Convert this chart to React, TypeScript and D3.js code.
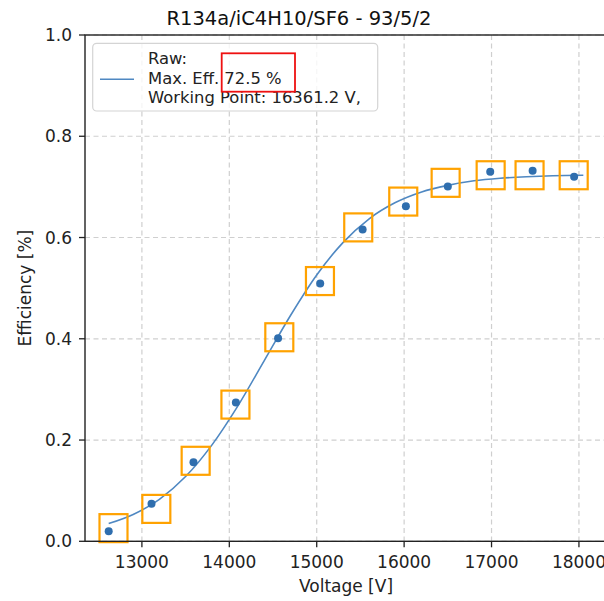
import React from 'react';
import * as d3 from 'd3';

// measured points (blue dots)
const voltage = [12620, 13110, 13590, 14075, 14558, 15040, 15525, 16020, 16500, 16985, 17470, 17945];
const efficiency = [0.020, 0.074, 0.156, 0.274, 0.401, 0.509, 0.616, 0.662, 0.701, 0.730, 0.732, 0.720];

// orange square markers
const boxVoltage = [12675, 13165, 13615, 14070, 14572, 15037, 15475, 15990, 16475, 16990, 17435, 17940];
const boxEfficiency = [0.026, 0.064, 0.159, 0.270, 0.403, 0.514, 0.620, 0.671, 0.708, 0.723, 0.723, 0.723];

// fit curve
const fitVoltage = [12620, 12900, 13200, 13500, 13800, 14100, 14400, 14700, 15000, 15300, 15600, 15900, 16200, 16500, 16800, 17100, 17400, 17700, 18050];
const fitEfficiency = [0.035, 0.053, 0.083, 0.128, 0.190, 0.268, 0.357, 0.446, 0.526, 0.590, 0.637, 0.669, 0.690, 0.703, 0.712, 0.717, 0.720, 0.722, 0.723];

const xTicks = [13000, 14000, 15000, 16000, 17000, 18000];
const yTicks = [0, 0.2, 0.4, 0.6, 0.8, 1.0];
const legendLines = ['Raw:', 'Max. Eff. 72.5 %', 'Working Point: 16361.2 V,'];

const W = 604, H = 601;
const left = 85, right = 607, top = 35, bottom = 541.3;
const font = '"DejaVu Sans", sans-serif';

export default function App() {
  const x = d3.scaleLinear().domain([12349, 18321]).range([left, right]);
  const y = d3.scaleLinear().domain([0, 1]).range([bottom, top]);

  const line = d3.line<number>()
    .x((d, i) => x(fitVoltage[i]))
    .y(d => y(d))
    .curve(d3.curveMonotoneX);

  const sq = 28;

  return (
    <svg width={W} height={H} style={{ position: 'absolute', left: 0, top: 0, background: '#fff' }}>
      <rect x={0} y={0} width={W} height={H} fill="#fff" />
      <text x={299} y={25} textAnchor="middle" fontFamily={font} fontSize={19.5} fill="#111">
        R134a/iC4H10/SF6 - 93/5/2
      </text>

      {/* grid */}
      {xTicks.map(t => (
        <line key={'gx' + t} x1={x(t)} x2={x(t)} y1={top} y2={bottom}
          stroke="#cfcfcf" strokeWidth={1.2} strokeDasharray="5,3.5" />
      ))}
      {yTicks.map(t => (
        <line key={'gy' + t} x1={left} x2={right} y1={y(t)} y2={y(t)}
          stroke="#cfcfcf" strokeWidth={1.2} strokeDasharray="5,3.5" />
      ))}

      {/* fit curve */}
      <path d={line(fitEfficiency) || ''} fill="none" stroke="#4f88c2" strokeWidth={1.6} />

      {/* points */}
      {voltage.map((v, i) => (
        <circle key={'p' + i} cx={x(v)} cy={y(efficiency[i])} r={4} fill="#2f6eae" />
      ))}

      {/* squares */}
      {boxVoltage.map((v, i) => (
        <rect key={'s' + i} x={x(v) - sq / 2} y={y(boxEfficiency[i]) - sq / 2}
          width={sq} height={sq} fill="none" stroke="#ffa200" strokeWidth={2.2} />
      ))}

      {/* spines */}
      <rect x={left} y={top} width={right - left} height={bottom - top} fill="none" stroke="#222" strokeWidth={1.4} />

      {/* x axis */}
      {xTicks.map(t => (
        <g key={'xt' + t}>
          <line x1={x(t)} x2={x(t)} y1={bottom} y2={bottom + 6} stroke="#222" strokeWidth={1.3} />
          <text x={x(t)} y={568} textAnchor="middle" fontFamily={font} fontSize={17} fill="#222">{t}</text>
        </g>
      ))}
      <text x={(left + right) / 2} y={592} textAnchor="middle" fontFamily={font} fontSize={17} fill="#222">Voltage [V]</text>

      {/* y axis */}
      {yTicks.map(t => (
        <g key={'yt' + t}>
          <line x1={left - 6} x2={left} y1={y(t)} y2={y(t)} stroke="#222" strokeWidth={1.3} />
          <text x={72} y={y(t) + 6} textAnchor="end" fontFamily={font} fontSize={17} fill="#222">{d3.format('.1f')(t)}</text>
        </g>
      ))}
      <text transform={`translate(31,${(top + bottom) / 2}) rotate(-90)`} textAnchor="middle"
        fontFamily={font} fontSize={17} fill="#222">Efficiency [%]</text>

      {/* legend */}
      <rect x={92.7} y={43.3} width={285} height={67.7} rx={4} fill="#fff" fillOpacity={0.8} stroke="#d4d4d4" strokeWidth={1.2} />
      <line x1={100} x2={134} y1={79.3} y2={79.3} stroke="#4f88c2" strokeWidth={1.6} />
      {legendLines.map((s, i) => (
        <text key={'l' + i} x={148} y={64 + i * 19.7} fontFamily={font} fontSize={16.4} fill="#222">{s}</text>
      ))}
      <rect x={221.7} y={53.3} width={73.3} height={38.4} fill="none" stroke="#ee1111" strokeWidth={1.8} />
    </svg>
  );
}
